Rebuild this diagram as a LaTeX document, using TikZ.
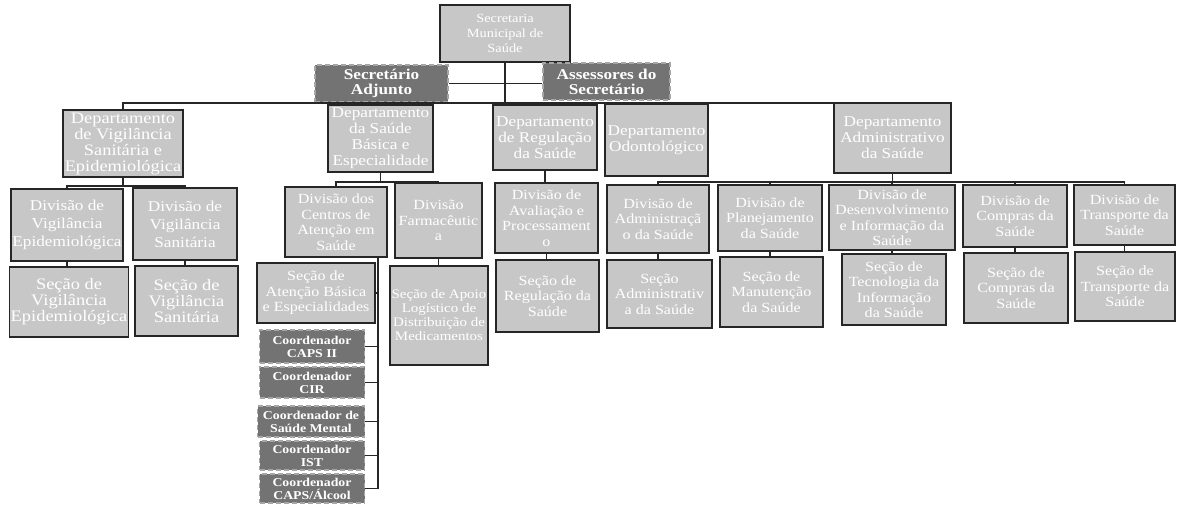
\documentclass[tikz,border=0pt]{standalone}
\usepackage{fontspec}
\setmainfont{Liberation Serif}[FakeStretch=1.15]

\tikzstyle{unit} = [draw=black!85, line width=1.5pt, fill=black!22, text=white, align=center, inner sep=1pt, font=\fontsize{14}{15.5}\selectfont]
\tikzstyle{head} = [unit, font=\fontsize{15}{16}\selectfont]
\tikzstyle{staff} = [draw=black!35, line width=1.8pt, dash pattern=on 5pt off 3pt, fill=black!55, text=white, align=center, inner sep=1pt, font=\bfseries\fontsize{12}{13}\selectfont]
\tikzstyle{link} = [draw=black!85, line width=1.3pt]

\begin{document}
\begin{tikzpicture}[x=1pt, y=-1pt]
\useasboundingbox (0,0) rectangle (1177,508);

\node[unit, minimum width=130, minimum height=57, font=\fontsize{12.5}{15}\selectfont] (sec) at (505,33.5) {Secretaria\\Municipal de\\Saúde};

\node[head, minimum width=120, minimum height=67, font=\fontsize{16}{16}\selectfont] (d1) at (123,143.5) {Departamento\\de Vigilância\\Sanitária e\\Epidemiológica};
\node[head, minimum width=105, minimum height=67] (d2) at (380.5,138.5) {Departamento\\da Saúde\\Básica e\\Especialidade};
\node[head, minimum width=104, minimum height=65] (d3) at (545,137.5) {Departamento\\de Regulação\\da Saúde};
\node[head, minimum width=103, minimum height=72] (d4) at (656.5,140) {Departamento\\Odontológico};
\node[head, minimum width=117, minimum height=70] (d5) at (892.5,138) {Departamento\\Administrativo\\da Saúde};

\node[staff, minimum width=133, minimum height=37, font=\bfseries\fontsize{15}{15}\selectfont] (adj) at (381.5,83.5) {Secretário\\Adjunto};
\node[staff, minimum width=127, minimum height=37, font=\bfseries\fontsize{15}{15}\selectfont] (ass) at (606.5,81.5) {Assessores do\\Secretário};

\node[head, minimum width=112, minimum height=72, font=\fontsize{15}{18}\selectfont] (v11) at (67,225) {Divisão de\\Vigilância\\Epidemiológica};
\node[head, minimum width=104, minimum height=72, font=\fontsize{15}{18}\selectfont] (v12) at (185,224) {Divisão de\\Vigilância\\Sanitária};
\node[head, minimum width=118, minimum height=70, font=\fontsize{16}{16}\selectfont] (s11) at (69,302) {Seção de\\Vigilância\\Epidemiológica};
\node[head, minimum width=103, minimum height=70, font=\fontsize{16}{16}\selectfont] (s12) at (186.5,301) {Seção de\\Vigilância\\Sanitária};

\node[unit, minimum width=102, minimum height=70] (v21) at (336,222) {Divisão dos\\Centros de\\Atenção em\\Saúde};
\node[unit, minimum width=87, minimum height=75] (v22) at (438.5,220.5) {Divisão\\Farmacêutic\\a};
\node[unit, minimum width=118, minimum height=60] (s21) at (316,293) {Seção de\\Atenção Básica\\e Especialidades};
\node[unit, minimum width=98, minimum height=99, font=\fontsize{13}{14}\selectfont] (s22) at (439,315.5) {Seção de Apoio\\Logístico de\\Distribuição de\\Medicamentos};

\node[staff, minimum width=105, minimum height=33] (c1) at (312,346.5) {Coordenador\\CAPS II};
\node[staff, minimum width=105, minimum height=31] (c2) at (312,382.5) {Coordenador\\CIR};
\node[staff, minimum width=107, minimum height=31] (c3) at (311,421.5) {Coordenador de\\Saúde Mental};
\node[staff, minimum width=105, minimum height=29] (c4) at (312,455.5) {Coordenador\\IST};
\node[staff, minimum width=105, minimum height=29] (c5) at (312,488.5) {Coordenador\\CAPS/Álcool};

\node[unit, minimum width=103, minimum height=70] (v31) at (546.5,218) {Divisão de\\Avaliação e\\Processament\\o};
\node[unit, minimum width=103, minimum height=72] (s31) at (547.5,296) {Seção de\\Regulação da\\Saúde};

\node[unit, minimum width=102, minimum height=68] (v51) at (658,219) {Divisão de\\Administraçã\\o da Saúde};
\node[unit, minimum width=104, minimum height=66] (v52) at (770,218) {Divisão de\\Planejamento\\da Saúde};
\node[unit, minimum width=126, minimum height=65] (v53) at (892,217.5) {Divisão de\\Desenvolvimento\\e Informação da\\Saúde};
\node[unit, minimum width=104, minimum height=62] (v54) at (1015,216) {Divisão de\\Compras da\\Saúde};
\node[unit, minimum width=101, minimum height=60] (v55) at (1124.5,215) {Divisão de\\Transporte da\\Saúde};
\node[unit, minimum width=105, minimum height=68] (s51) at (659.5,294) {Seção\\Administrativ\\a da Saúde};
\node[unit, minimum width=103, minimum height=70] (s52) at (771.5,292) {Seção de\\Manutenção\\da Saúde};
\node[unit, minimum width=104, minimum height=71] (s53) at (894,289.5) {Seção de\\Tecnologia da\\Informação\\da Saúde};
\node[unit, minimum width=104, minimum height=70] (s54) at (1016,288) {Seção de\\Compras da\\Saúde};
\node[unit, minimum width=100, minimum height=69] (s55) at (1125,286.5) {Seção de\\Transporte da\\Saúde};

\coordinate (bus) at (505,103);
\coordinate (b1) at (123,186);
\coordinate (b2) at (380.5,182);
\coordinate (b5) at (892.5,182);
\coordinate (spine) at (378,0);

\draw[link] (sec.south) -- (bus);
\draw[link] (adj.east) -- (adj.east -| ass.west);
\draw[link] (d1.north) |- (bus) -| (d5.north);
\draw[link] (d2.north) -- (d2.north |- bus);
\draw[link] (d3.north) -- (d3.north |- bus);
\draw[link] (d4.north) -- (d4.north |- bus);

\draw[link] (d1.south) -- (b1);
\draw[link] (v11.north) |- (b1) -| (v12.north);
\draw[link] (v11.south) -- (v11.south |- s11.north);
\draw[link] (v12.south) -- (v12.south |- s12.north);

\draw[link] (d2.south) -- (b2);
\draw[link] (v21.north) |- (b2) -| (v22.north);
\draw[link] (v22.south) -- (v22.south |- s22.north);
\draw[link] (v21.south -| spine) |- (c5.east);
\draw[link] (s21.east) -- (s21.east -| spine);
\draw[link] (c1.east) -- (c1.east -| spine);
\draw[link] (c2.east) -- (c2.east -| spine);
\draw[link] (c3.east) -- (c3.east -| spine);
\draw[link] (c4.east) -- (c4.east -| spine);

\draw[link] (d3.south) -- (d3.south |- v31.north);
\draw[link] (v31.south) -- (v31.south |- s31.north);

\draw[link] (d5.south) -- (b5);
\draw[link] (v51.north) |- (b5) -| (v55.north);
\draw[link] (v52.north) -- (v52.north |- b5);
\draw[link] (v53.north) -- (v53.north |- b5);
\draw[link] (v54.north) -- (v54.north |- b5);
\draw[link] (v51.south) -- (v51.south |- s51.north);
\draw[link] (v52.south) -- (v52.south |- s52.north);
\draw[link] (v53.south) -- (v53.south |- s53.north);
\draw[link] (v54.south) -- (v54.south |- s54.north);
\draw[link] (v55.south) -- (v55.south |- s55.north);
\end{tikzpicture}
\end{document}
